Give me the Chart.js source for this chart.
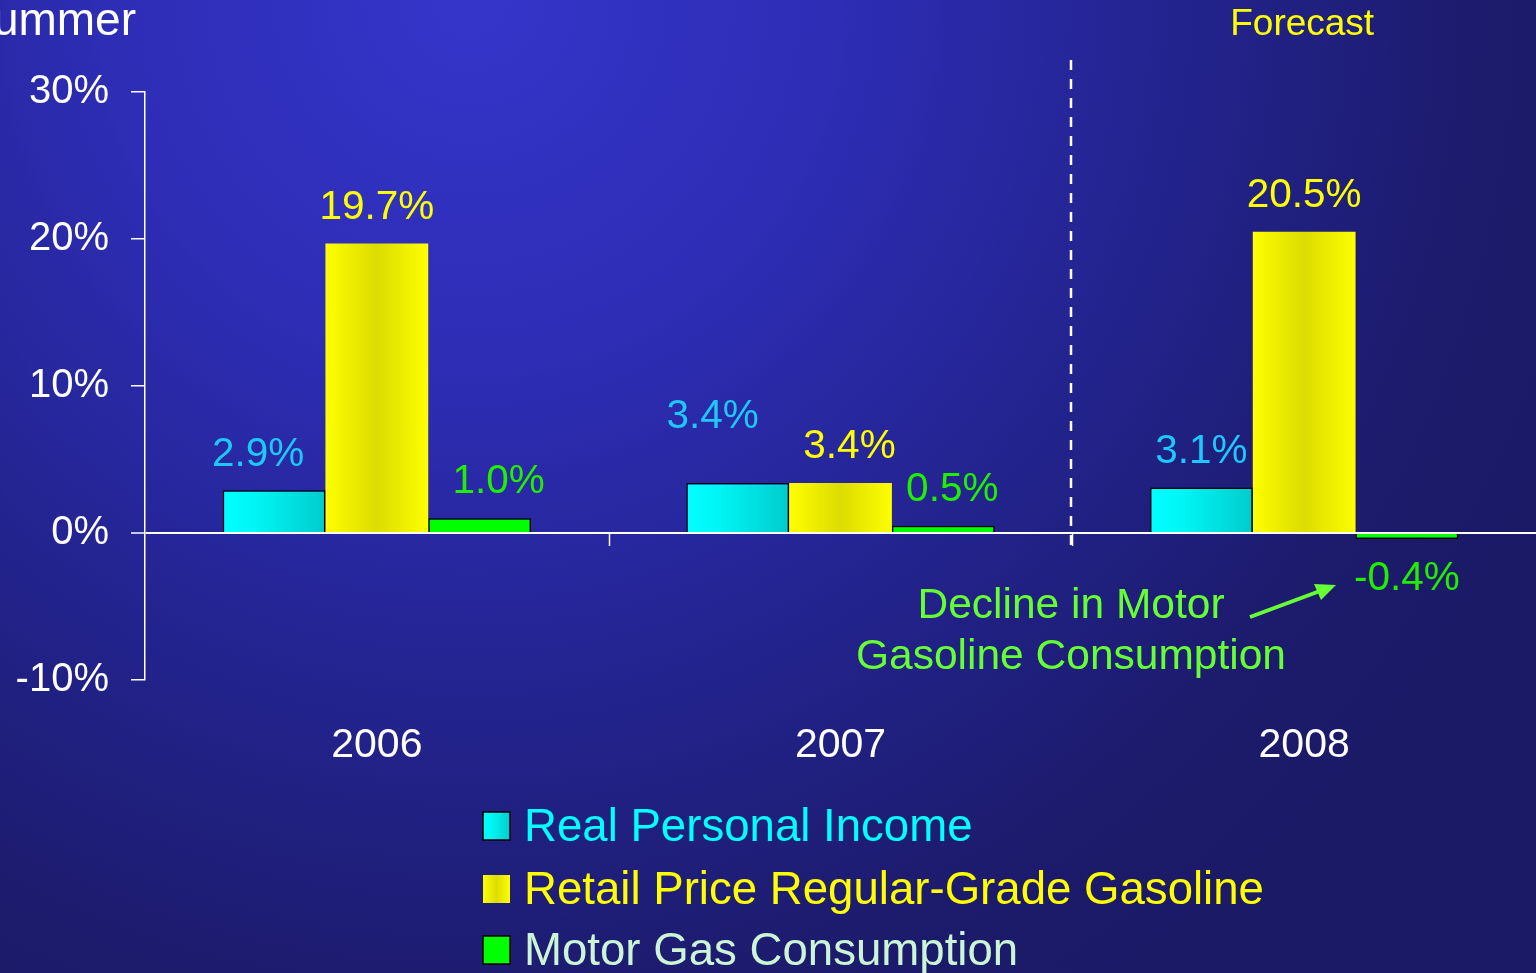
<!DOCTYPE html>
<html>
<head>
<meta charset="utf-8">
<title>Income, Gasoline Price and Consumption</title>
<script src="https://cdn.jsdelivr.net/npm/chart.js@4/dist/chart.umd.min.js"></script>
<style>
  html, body { margin: 0; padding: 0; }
  body {
    width: 1536px;
    height: 973px;
    overflow: hidden;
    background: radial-gradient(circle 1200px at 470px 0px, #3535ca 0%, #2d2db6 30%, #22228a 62%, #1c1b6c 85%, #1b1a66 100%);
  }
  #wrap { position: relative; width: 1536px; height: 973px; }
</style>
</head>
<body>
<div id="wrap">
  <canvas id="grafico" width="1536" height="973"></canvas>
</div>
<script>
// ===============================
// DATA
// ===============================

const years = ["2006", "2007", "2008"];
const seriesNames = ["Real Personal Income", "Retail Price Regular-Grade Gasoline", "Motor Gas Consumption"];
const incomeGrowth = [2.9, 3.4, 3.1];
const gasPriceGrowth = [19.7, 3.4, 20.5];
const gasConsumptionGrowth = [1.0, 0.5, -0.4];
const yMin = -10;
const yMax = 30;
const yStep = 10;

// ===============================
// STYLE
// ===============================

const FONT = "'Liberation Sans', Arial, Helvetica, sans-serif";
const CAT_PCT = 0.665;

// label nudges [dx, extra lift] per dataset / category
const labelNudges = [
  [[-16, 0], [-25, 30], [0, 0]],
  [[0, 0], [9, 0], [0, 0]],
  [[19, 0], [9, 0], [0, 0]]
];
const labelColors = ["#1ec8fa", "#ffff00", "#22ee00"];
const legendColors = ["#00ffff", "#ffff00", "#ccf5d5"];

const fills = [
  [[0, "#00ffff"], [0.3, "#00f6f6"], [1, "#00cccc"]],
  [[0, "#ffff00"], [0.12, "#f6f600"], [0.5, "#dcdc00"], [0.88, "#f6f600"], [1, "#ffff00"]],
  [[0, "#00ff00"], [1, "#00ff00"]]
];

function makeGradient(ctx, left, width, stops) {
  const g = ctx.createLinearGradient(left, 0, left + width, 0);
  stops.forEach(function (s) { g.addColorStop(s[0], s[1]); });
  return g;
}

function barFill(dsIndex) {
  return function (c) {
    const chart = c.chart;
    if (!chart.chartArea) return fills[dsIndex][0][1];
    const xs = chart.scales.x;
    const cw = xs.width / years.length;
    const group = cw * CAT_PCT;
    const bw = group / 3;
    const left = xs.getPixelForValue(c.dataIndex) - group / 2 + dsIndex * bw;
    return makeGradient(chart.ctx, left, bw, fills[dsIndex]);
  };
}

// ===============================
// EXTRA DRAWING
// ===============================

const decor = {
  id: "decor",
  afterDraw: function (chart) {
    const ctx = chart.ctx;
    const xs = chart.scales.x;
    const ys = chart.scales.y;
    const y0 = ys.getPixelForValue(0);

    ctx.save();

    // title fragment
    ctx.fillStyle = "#ffffff";
    ctx.font = "46px " + FONT;
    ctx.textAlign = "right";
    ctx.textBaseline = "alphabetic";
    ctx.fillText("Summer", 136, 35);

    // category boundary ticks
    ctx.strokeStyle = "#ffffff";
    ctx.lineWidth = 1.5;
    for (let i = 0; i < years.length - 1; i++) {
      const bx = Math.round((xs.getPixelForValue(i) + xs.getPixelForValue(i + 1)) / 2) + 0.5;
      ctx.beginPath();
      ctx.moveTo(bx, y0);
      ctx.lineTo(bx, y0 + 13);
      ctx.stroke();
    }

    // forecast divider
    const fx = Math.round((xs.getPixelForValue(1) + xs.getPixelForValue(2)) / 2) - 1;
    ctx.setLineDash([10, 9]);
    ctx.lineWidth = 2.5;
    ctx.beginPath();
    ctx.moveTo(fx, 60);
    ctx.lineTo(fx, y0 + 14);
    ctx.stroke();
    ctx.setLineDash([]);

    ctx.fillStyle = "#ffff00";
    ctx.font = "37px " + FONT;
    ctx.textAlign = "center";
    ctx.textBaseline = "middle";
    ctx.fillText("Forecast", xs.getPixelForValue(2) - 2, 25);

    // value labels
    ctx.font = "40.5px " + FONT;
    chart.data.datasets.forEach(function (ds, di) {
      const meta = chart.getDatasetMeta(di);
      meta.data.forEach(function (bar, i) {
        const v = ds.data[i];
        const nudge = labelNudges[di][i];
        const ty = v >= 0 ? bar.y - 36 - nudge[1] : bar.base + Math.abs(bar.y - bar.base) + 40;
        ctx.fillStyle = labelColors[di];
        ctx.fillText(v.toFixed(1) + "%", bar.x + nudge[0], ty);
      });
    });

    // annotation
    ctx.fillStyle = "#66ff33";
    ctx.font = "42.5px " + FONT;
    ctx.fillText("Decline in Motor", fx, 606);
    ctx.fillText("Gasoline Consumption", fx, 657);

    ctx.strokeStyle = "#66ff33";
    ctx.lineWidth = 4;
    ctx.beginPath();
    ctx.moveTo(1250, 617);
    ctx.lineTo(1320, 591);
    ctx.stroke();
    ctx.beginPath();
    ctx.moveTo(1336, 585);
    ctx.lineTo(1314, 584);
    ctx.lineTo(1321, 600);
    ctx.closePath();
    ctx.fill();

    // legend
    const rowY = [826, 889, 950];
    ctx.font = "45.6px " + FONT;
    ctx.textAlign = "left";
    chart.data.datasets.forEach(function (ds, di) {
      const by = rowY[di] - 14;
      ctx.fillStyle = makeGradient(ctx, 483, 27, fills[di]);
      ctx.fillRect(483, by, 27, 28);
      if (di !== 1) {
        ctx.strokeStyle = "#000000";
        ctx.lineWidth = 1.5;
        ctx.strokeRect(483, by, 27, 28);
      }
      ctx.fillStyle = legendColors[di];
      ctx.fillText(ds.label, 524, rowY[di] + 2);
    });

    ctx.restore();
  }
};

// ===============================
// CHART
// ===============================

const ctx = document.getElementById("grafico").getContext("2d");

const grafico = new Chart(ctx, {
  type: "bar",
  data: {
    labels: years,
    datasets: [
      {
        label: seriesNames[0],
        data: incomeGrowth,
        backgroundColor: barFill(0),
        borderColor: "#000000",
        borderWidth: 1.5
      },
      {
        label: seriesNames[1],
        data: gasPriceGrowth,
        backgroundColor: barFill(1),
        borderWidth: 0
      },
      {
        label: seriesNames[2],
        data: gasConsumptionGrowth,
        backgroundColor: barFill(2),
        borderColor: "#000000",
        borderWidth: 1.5
      }
    ]
  },
  options: {
    responsive: false,
    animation: false,
    layout: { padding: { top: 92, right: 0, bottom: 0, left: 0 } },
    datasets: {
      bar: { categoryPercentage: CAT_PCT, barPercentage: 1 }
    },
    plugins: {
      legend: { display: false },
      tooltip: { enabled: false }
    },
    scales: {
      x: {
        grid: { display: false, drawTicks: false },
        border: { display: false },
        ticks: {
          color: "#ffffff",
          font: { family: FONT, size: 41 },
          padding: 41
        },
        afterFit: function (scale) { scale.height = 973 - 680; }
      },
      y: {
        min: yMin,
        max: yMax,
        border: { display: true, color: "#ffffff", width: 1.5 },
        grid: {
          color: function (c) { return c.tick && c.tick.value === 0 ? "#ffffff" : "rgba(0,0,0,0)"; },
          lineWidth: function (c) { return c.tick && c.tick.value === 0 ? 2 : 1.5; },
          tickColor: "#ffffff",
          tickLength: 14,
          tickWidth: 1.5
        },
        ticks: {
          stepSize: yStep,
          color: "#ffffff",
          font: { family: FONT, size: 40 },
          padding: 22,
          callback: function (v) { return v + "%"; }
        },
        afterFit: function (scale) { scale.width = 145; }
      }
    }
  },
  plugins: [decor]
});
</script>
</body>
</html>
